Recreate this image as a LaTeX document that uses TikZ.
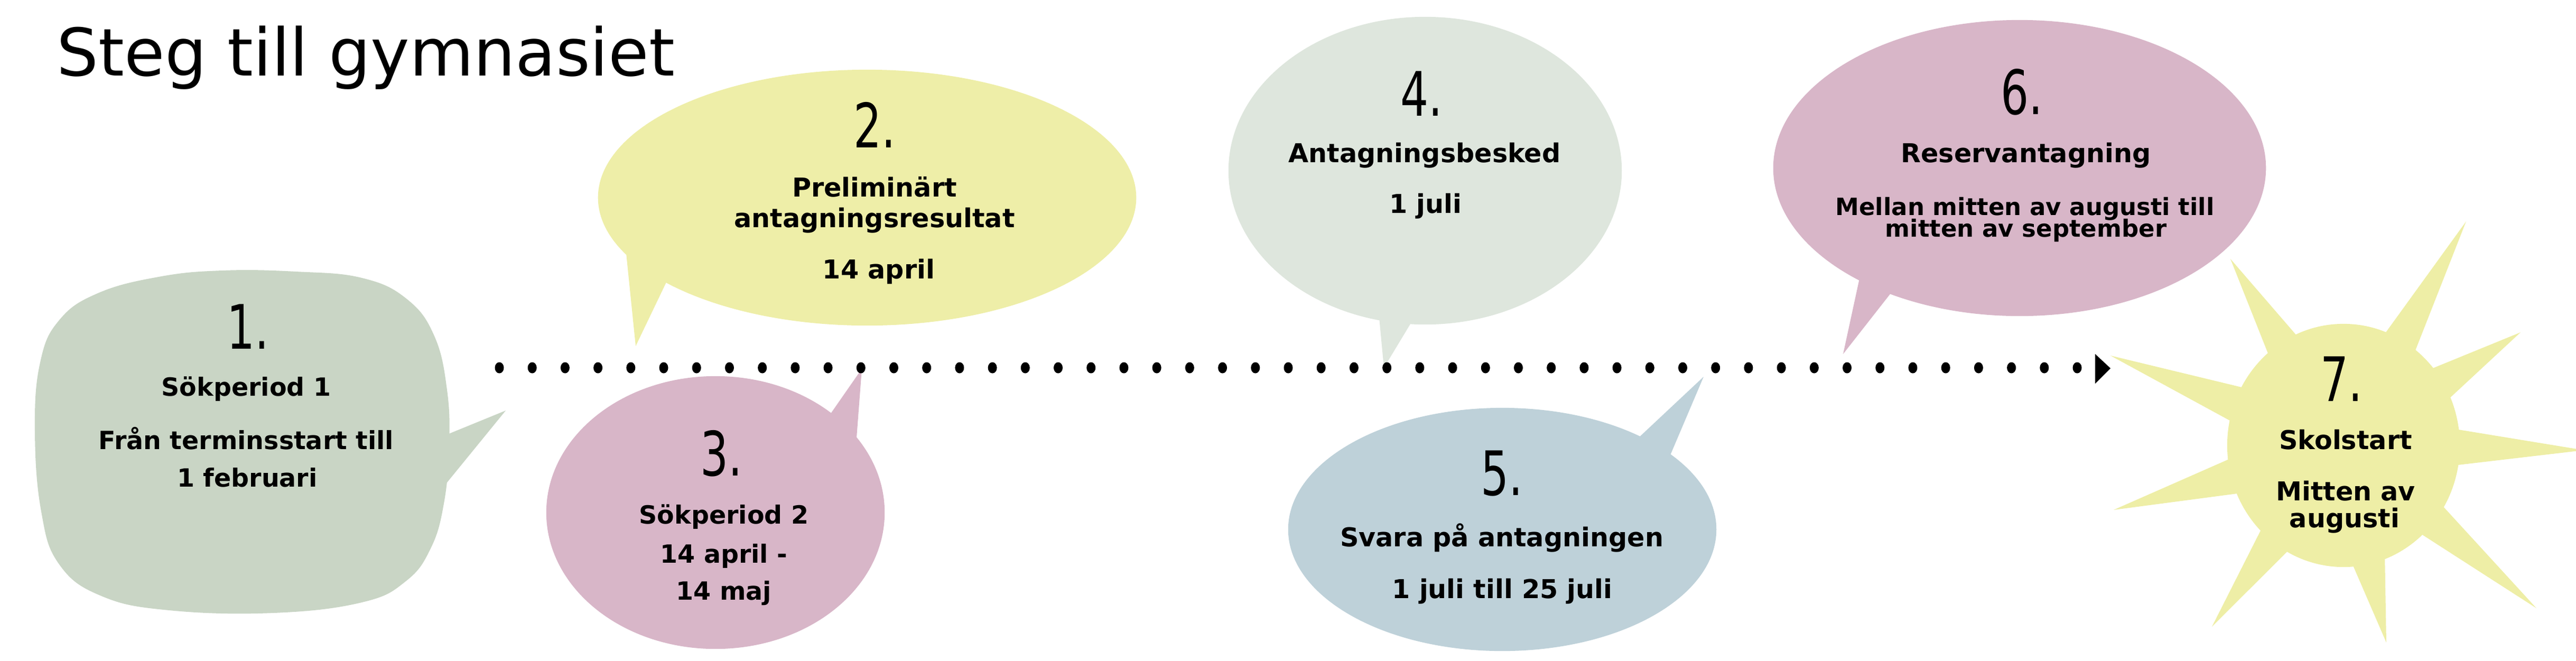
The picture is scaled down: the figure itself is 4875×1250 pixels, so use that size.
\documentclass[tikz,border=0pt]{standalone}
\usepackage{fontspec}
\setmainfont{DejaVu Sans}
\newfontfamily\handfont[FakeStretch=0.72]{DejaVu Sans}
\usetikzlibrary{calc}
\definecolor{cOne}{RGB}{201,213,197}
\definecolor{cTwo}{RGB}{238,238,168}
\definecolor{cPink}{RGB}{216,182,200}
\definecolor{cFour}{RGB}{222,230,221}
\definecolor{cFive}{RGB}{190,209,217}
\definecolor{cSun}{RGB}{238,238,166}
\begin{document}
\begin{tikzpicture}[x=0.01cm,y=-0.01cm,
  num/.style={anchor=base,inner sep=0pt,font=\handfont\fontsize{33}{36}\selectfont},
  txt/.style={anchor=base,inner sep=0pt,font=\bfseries\fontsize{14}{16}\selectfont},
  txts/.style={anchor=base,inner sep=0pt,font=\bfseries\fontsize{13.5}{16}\selectfont},
  txtx/.style={anchor=base,inner sep=0pt,font=\bfseries\fontsize{12.8}{15}\selectfont},
  dot/.style={fill=black}]
\useasboundingbox (0,0) rectangle (4875,1250);
\clip (0,0) rectangle (4875,1250);

% ---------- bubble 1 ----------
\fill[cOne] plot[smooth cycle,tension=0.7] coordinates {(66,815) (76,686) (112,606) (185,555) (300,524) (420,512) (560,514) (685,526) (770,566) (822,636) (846,738) (850,844) (840,953) (815,1038) (768,1100) (685,1140) (518,1160) (320,1155) (192,1128) (112,1068) (78,968)};
\fill[cOne] (820,833) -- (957,777) -- (820,945) -- cycle;

% ---------- bubble 2 ----------
\fill[cTwo] (1641,374) ellipse [x radius=5.09cm, y radius=2.42cm];
\fill[cTwo] (1182,450) -- (1203,655) -- (1274,507) -- cycle;

% ---------- bubble 3 ----------
\fill[cPink] (1354,970) ellipse [x radius=3.2cm, y radius=2.58cm];
\fill[cPink] (1551,813) -- (1631,698) -- (1616,894) -- cycle;

% ---------- bubble 4 ----------
\fill[cFour] (2697,323) ellipse [x radius=3.72cm, y radius=2.91cm];
\fill[cFour] (2608,580) -- (2619,696) -- (2680,595) -- cycle;

% ---------- bubble 5 ----------
\fill[cFive] (2843,1002) ellipse [x radius=4.05cm, y radius=2.3cm];
\fill[cFive] (3080,848) -- (3224,713) -- (3150,887) -- cycle;

% ---------- bubble 6 ----------
\fill[cPink] (3822,318) ellipse [x radius=4.66cm, y radius=2.8cm];
\fill[cPink] (3527,490) -- (3488,670) -- (3604,522) -- cycle;

% ---------- sun ----------
\coordinate (S) at (4435,843);
\fill[cSun] (S) ellipse [x radius=2.2cm, y radius=2.3cm];
\foreach \a/\tx/\ty in {-121.2/4221/490, -61.3/4667/419, -32.6/4770/629, 0.9/4890/852, 40.2/4800/1151, 77.7/4516/1216, 126/4186/1186, 164.3/4000/965, 201.1/3994/673}{
  \pgfmathsetmacro{\aa}{\a-10}
  \pgfmathsetmacro{\ab}{\a+10}
  \fill[cSun] ($(S)+(\aa:205)$) -- (\tx,\ty) -- ($(S)+(\ab:205)$) -- cycle;
}

% ---------- dotted timeline ----------
\coordinate (dA) at (945,696);
\coordinate (dB) at (3931,696);
\coordinate (arrowTip) at (3994,697);
\foreach \i in {0,...,48}{
  \fill[dot] ($(dA)!\i/48!(dB)$) ellipse [x radius=0.085cm, y radius=0.105cm];
}
\fill[dot] (3965,670) -- (arrowTip) -- (3965,726) -- cycle;

% ---------- title ----------
\node[anchor=base west,inner sep=0pt,font=\fontsize{35.4}{40}\selectfont] (title) at (107,143) {Steg till gymnasiet};

% ---------- texts ----------
\node[num] (n1) at (469,660) {1.};
\node[txts] (t1a) at (466,749) {Sökperiod 1};
\node[txts] (t1b) at (466,850) {Från terminsstart till};
\node[txts] (t1c) at (468,921) {1 februari};

\node[num] (n2) at (1655,279) {2.};
\node[txt] (t2a) at (1655,372) {Preliminärt};
\node[txt] (t2b) at (1655,430) {antagningsresultat};
\node[txt] (t2c) at (1663,527) {14 april};

\node[num] (n3) at (1365,900) {3.};
\node[txts] (t3a) at (1370,991) {Sökperiod 2};
\node[txts] (t3b) at (1370,1065) {14 april -};
\node[txts] (t3c) at (1370,1135) {14 maj};

\node[num] (n4) at (2690,219) {4.};
\node[txt] (t4a) at (2696,307) {Antagningsbesked};
\node[txt] (t4b) at (2698,403) {1 juli};

\node[num] (n5) at (2842,937) {5.};
\node[txt] (t5a) at (2842,1034) {Svara på antagningen};
\node[txt] (t5b) at (2843,1132) {1 juli till 25 juli};

\node[num] (n6) at (3826,216) {6.};
\node[txt] (t6a) at (3834,307) {Reservantagning};
\node[txtx] (t6b) at (3832,407) {Mellan mitten av augusti till};
\node[txtx] (t6c) at (3834,448) {mitten av september};

\node[num] (n7) at (4431,759) {7.};
\node[txt] (t7a) at (4439,850) {Skolstart};
\node[txt] (t7b) at (4439,947) {Mitten av};
\node[txt] (t7c) at (4437,998) {augusti};
\end{tikzpicture}
\end{document}
